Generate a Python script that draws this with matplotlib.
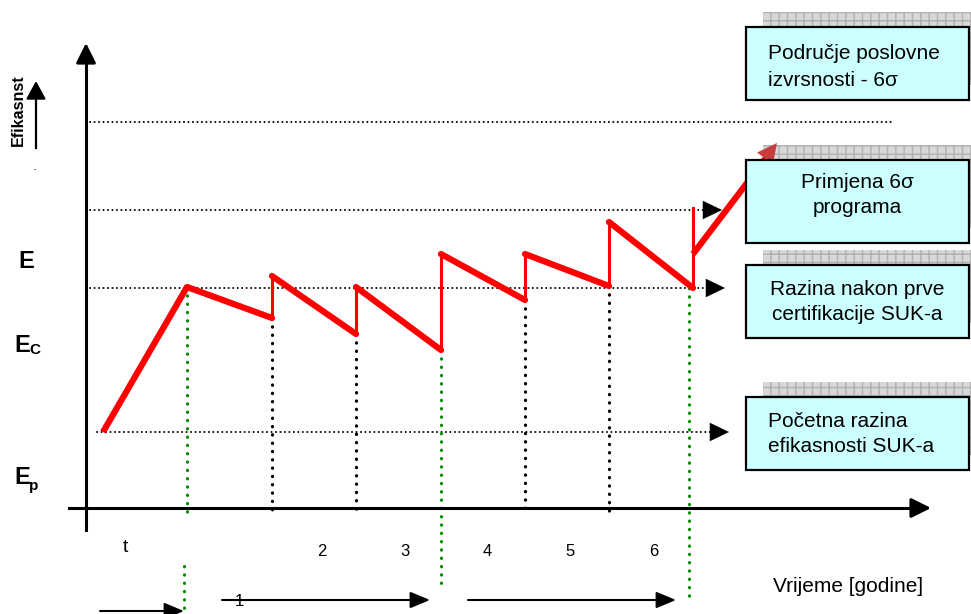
import matplotlib.pyplot as plt
from matplotlib.patches import Rectangle

plt.rcParams['font.family'] = ['Liberation Sans', 'DejaVu Sans']

# schematic values, in picture units (x grows right, y grows down)
start_pt = (103, 432)
cycle_x = [187, 272, 356, 441, 525, 609, 693]
cycle_top = [287, 276, 287, 254, 254, 222]      # level right after each jump
cycle_bottom = [318, 334, 350, 300, 286, 288]   # level at end of each period
final_seg = [(693, 254), (777, 143)]
jump_top_last = 208

level_y = [122, 210, 288, 432]
level_x0 = [90, 90, 90, 97]
level_x1 = [895, 705, 708, 712]
level_arrow = [False, True, True, True]

green_x = [187, 441, 689]
green_y0 = [287, 350, 288]
green_y1 = [512, 588, 600]
black_x = [272, 356, 525, 609]
black_y0 = [318, 334, 300, 286]

period_labels = ['2', '3', '4', '5', '6']
period_label_x = [322, 405, 487, 570, 654]

# text, box top, box height, alignment, text centre, line spacing
box_texts = [
    ('Područje poslovne\nizvrsnosti - 6σ', 27, 73, 'left', 67, 1.5),
    ('Primjena 6σ\nprograma', 160, 83, 'center', 195, 1.35),
    ('Razina nakon prve\ncertifikacije SUK-a', 265, 73, 'center', 302, 1.45),
    ('Početna razina\nefikasnosti SUK-a', 397, 73, 'left', 434, 1.38),
]

fig = plt.figure(figsize=(9.71, 6.14), dpi=100)
ax = fig.add_axes([0, 0, 1, 1])
ax.set_xlim(0, 971)
ax.set_ylim(614, 0)
ax.axis('off')


def arrow(x0, y0, x1, y1, lw=1.5, hl=0.6, hw=0.25, color='black', z=5, alpha=1, ms=20):
    ax.annotate('', xy=(x1, y1), xytext=(x0, y0),
                arrowprops=dict(arrowstyle='-|>,head_length=%s,head_width=%s' % (hl, hw),
                                lw=lw, color=color, shrinkA=0, shrinkB=0,
                                mutation_scale=ms, alpha=alpha),
                zorder=z)


# axes
ax.plot([86, 86], [530, 55], color='black', lw=2.2, zorder=5)
arrow(86, 60, 86, 43, lw=2.2, hw=0.3)
ax.plot([69, 918], [508, 508], color='black', lw=2.2, zorder=5)
arrow(912, 508, 931, 508, lw=2.2, hw=0.3)

# horizontal dotted levels
for y, x0, x1, a in zip(level_y, level_x0, level_x1, level_arrow):
    ax.plot([x0, x1], [y, y], color='black', lw=1.4, linestyle=(0, (0.1, 2.2)),
            dash_capstyle='round', zorder=2)
    if a:
        arrow(x1 - 2, y, x1 + 17, y, lw=0.1, hl=0.62, hw=0.3, ms=22)

# vertical dotted lines
for x, y0, y1 in zip(green_x, green_y0, green_y1):
    ax.plot([x, x], [y0, y1], color='#0a8a0a', lw=2.3, linestyle=(0, (0.1, 2.5)),
            dash_capstyle='round', zorder=2)
ax.plot([184, 184], [566, 614], color='#0a8a0a', lw=2.3, linestyle=(0, (0.1, 2.5)),
        dash_capstyle='round', zorder=2)
for x, y0 in zip(black_x, black_y0):
    ax.plot([x, x], [y0, 513], color='black', lw=2.3, linestyle=(0, (0.1, 2.5)),
            dash_capstyle='round', zorder=2)

# red sawtooth
red = '#ff0000'
ax.plot([start_pt[0], cycle_x[0]], [start_pt[1], cycle_top[0]], color=red, lw=4.5,
        solid_capstyle='butt', zorder=4)
for i in range(6):
    ax.plot([cycle_x[i], cycle_x[i + 1]], [cycle_top[i], cycle_bottom[i]], color=red,
            lw=4.5, solid_capstyle='round', zorder=4)
for i in range(1, 6):
    ax.plot([cycle_x[i], cycle_x[i]], [cycle_bottom[i - 1], cycle_top[i]], color=red,
            lw=2.2, zorder=4)
ax.plot([cycle_x[6], cycle_x[6]], [cycle_bottom[5], jump_top_last], color=red, lw=2.2, zorder=4)
(fx0, fy0), (fx1, fy1) = final_seg
ax.plot([fx0, fx1 - 8], [fy0, fy1 + 11], color=red, lw=4.5, solid_capstyle='butt', zorder=4)
arrow(fx1 - 14, fy1 + 18, fx1, fy1, lw=0.1, hl=0.7, hw=0.35, color='#c83c3c', z=4)

# boxes with hatched shadow
for txt, y, h, ha, yc, ls in box_texts:
    sh = Rectangle((763, y - 15), 222, h, facecolor='#d8d8d8', edgecolor='#b0b0b0',
                   hatch='++', lw=0, zorder=3)
    ax.add_patch(sh)
    ax.add_patch(Rectangle((746, y), 223, h, facecolor='#ccffff', edgecolor='black',
                           lw=1.6, zorder=6))
    if ha == 'left':
        ax.text(768, yc, txt, ha='left', va='center', fontsize=15,
                linespacing=ls, zorder=7)
    else:
        ax.text(857, yc, txt, ha='center', va='center', fontsize=15,
                linespacing=ls, zorder=7)

# left labels
ax.text(18, 110, 'Efikasnst', rotation=90, ha='center', va='center', fontsize=11.5,
        fontweight='bold')
ax.plot([36, 36], [148, 95], color='black', lw=1.6)
arrow(36, 98, 36, 81, lw=1.6, hl=0.55, hw=0.3)
ax.text(35, 170, '-', ha='center', va='center', fontsize=5)
ax.text(26, 262, 'E', ha='center', va='center', fontsize=17, fontweight='bold')
ax.text(22, 345, 'E', ha='center', va='center', fontsize=17, fontweight='bold')
ax.text(35, 350, 'C', ha='center', va='center', fontsize=11, fontweight='bold')
ax.text(22, 477, 'E', ha='center', va='center', fontsize=17, fontweight='bold')
ax.text(34, 486, 'p', ha='center', va='center', fontsize=11, fontweight='bold')

# bottom labels
ax.text(125, 548, 't', ha='center', va='center', fontsize=14)
for lab, x in zip(period_labels, period_label_x):
    ax.text(x, 552, lab, ha='center', va='center', fontsize=12)
ax.text(239, 602, '1', ha='center', va='center', fontsize=12)
ax.text(848, 587, 'Vrijeme [godine]', ha='center', va='center', fontsize=15)

arrow(100, 611, 184, 611, lw=1.5)
arrow(222, 600, 430, 600, lw=1.5)
arrow(468, 600, 676, 600, lw=1.5)
arrow(952, 581, 972, 581, lw=1.5)

fig.savefig('out.png', dpi=100)
